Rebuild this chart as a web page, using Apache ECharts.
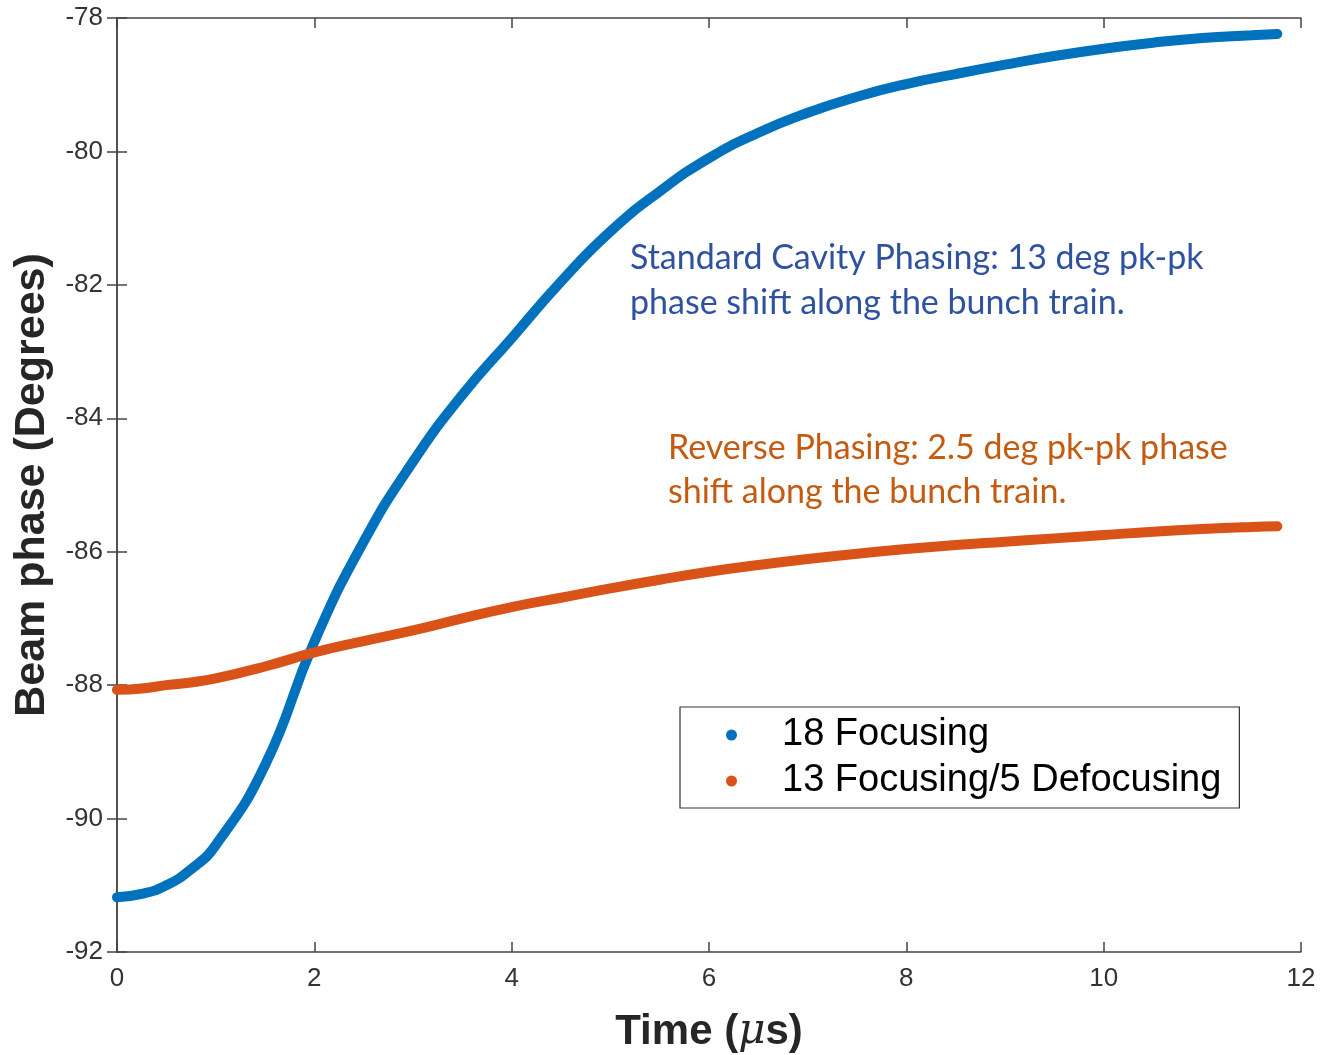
<!DOCTYPE html>
<html>
<head>
<meta charset="utf-8">
<title>Beam phase</title>
<script src="https://cdn.jsdelivr.net/npm/echarts@6/dist/echarts.min.js"></script>
<style>
  html, body { margin: 0; padding: 0; background: #fff; }
  #chart { width: 1322px; height: 1055px; }
</style>
</head>
<body>
<div id="chart"></div>
<script>
// time in microseconds
var timeUs = [0, 0.25, 0.5, 0.75, 1, 1.5, 2, 2.5, 3, 3.5, 4, 4.5, 5, 5.5, 6, 6.5, 7, 7.5, 8, 8.5, 9, 9.5, 10, 10.5, 11, 11.5, 11.76];
// beam phase, degrees
var focusing18 = [-91.18, -91.13, -91.0, -90.76, -90.4, -89.2, -87.35, -85.85, -84.65, -83.65, -82.8, -81.95, -81.2, -80.6,
  -80.1, -79.72, -79.42, -79.18, -78.99, -78.84, -78.7, -78.57, -78.46, -78.37, -78.3, -78.26, -78.24];
var focusing13defoc5 = [-88.07, -88.05, -88.0, -87.96, -87.9, -87.72, -87.51, -87.34, -87.18, -87.0, -86.83, -86.69, -86.55, -86.42,
  -86.3, -86.2, -86.11, -86.03, -85.96, -85.9, -85.85, -85.8, -85.75, -85.7, -85.66, -85.63, -85.62];
var seriesNames = ['18 Focusing', '13 Focusing/5 Defocusing'];
var xTicks = [0, 12, 2];
var yTicks = [-92, -78, 2];

function pairs(ys) {
  return timeUs.map(function (t, i) { return [t, ys[i]]; });
}

var chart = echarts.init(document.getElementById('chart'));

var axisCol = '#444';
var labelFont = { color: '#333', fontSize: 26, fontFamily: 'Liberation Sans, Arial, sans-serif' };

function xAx(pos, showLabel) {
  return {
    type: 'value', position: pos, min: xTicks[0], max: xTicks[1], interval: xTicks[2],
    axisLine: { show: true, lineStyle: { color: axisCol, width: 1.5 } },
    axisTick: { show: true, inside: true, length: 10, lineStyle: { color: axisCol, width: 1.5 } },
    axisLabel: Object.assign({ show: showLabel, margin: 14 }, labelFont),
    splitLine: { show: false }
  };
}
function yAx(pos, showLabel) {
  return {
    type: 'value', position: pos, min: yTicks[0], max: yTicks[1], interval: yTicks[2],
    axisLine: { show: true, lineStyle: { color: axisCol, width: 1.5 } },
    axisTick: { show: true, inside: true, length: 10, lineStyle: { color: axisCol, width: 1.5 } },
    axisLabel: Object.assign({ show: showLabel, margin: 14 }, labelFont),
    splitLine: { show: false }
  };
}

var xMain = xAx('bottom', true);
xMain.name = 'Time ({i|μ}s)';
xMain.nameLocation = 'middle';
xMain.nameGap = 59;
xMain.nameTextStyle = {
  color: '#262626', fontSize: 42, fontWeight: 'bold', fontFamily: 'Liberation Sans, Arial, sans-serif',
  rich: { i: { fontSize: 42, fontStyle: 'italic', fontWeight: 'normal', fontFamily: 'DejaVu Serif, serif', color: '#262626' } }
};

var yMain = yAx('left', true);
yMain.name = 'Beam phase (Degrees)';
yMain.nameLocation = 'middle';
yMain.nameGap = 63;
yMain.nameTextStyle = { color: '#262626', fontSize: 43, fontWeight: 'bold', fontFamily: 'Liberation Sans, Arial, sans-serif' };

var colors = ['#0072BD', '#D95319'];

var option = {
  backgroundColor: '#fff',
  animation: false,
  grid: { left: 117, right: 21, top: 18, bottom: 103, containLabel: false, outerBoundsMode: 'none' },
  xAxis: [xMain, xAx('top', false)],
  yAxis: [yMain, yAx('right', false)],
  legend: {
    data: seriesNames,
    orient: 'vertical',
    left: 680, top: 707,
    icon: 'circle',
    itemWidth: 11, itemHeight: 11,
    itemGap: 8,
    padding: [9, 18, 8, 46],
    borderColor: '#333', borderWidth: 1.2,
    backgroundColor: '#fff',
    textStyle: { color: '#000', fontSize: 38, fontFamily: 'Liberation Sans, Arial, sans-serif', padding: [0, 0, 0, 40] }
  },
  graphic: [
    {
      type: 'text', left: 630, top: 236,
      style: {
        text: 'Standard Cavity Phasing: 13 deg pk-pk\nphase shift along the bunch train.',
        fill: '#2F52A0', font: '34px Lato, "Open Sans", sans-serif', lineHeight: 45
      }
    },
    {
      type: 'text', left: 668, top: 426,
      style: {
        text: 'Reverse Phasing: 2.5 deg pk-pk phase\nshift along the bunch train.',
        fill: '#C55A11', font: '34px Lato, "Open Sans", sans-serif', lineHeight: 44
      }
    }
  ],
  series: [
    {
      name: seriesNames[0], type: 'line', smooth: true, showSymbol: false, symbol: 'circle',
      data: pairs(focusing18),
      itemStyle: { color: colors[0] },
      lineStyle: { color: colors[0], width: 10, cap: 'round' }
    },
    {
      name: seriesNames[1], type: 'line', smooth: true, showSymbol: false, symbol: 'circle',
      data: pairs(focusing13defoc5),
      itemStyle: { color: colors[1] },
      lineStyle: { color: colors[1], width: 10, cap: 'round' }
    }
  ]
};

chart.setOption(option);
</script>
</body>
</html>
